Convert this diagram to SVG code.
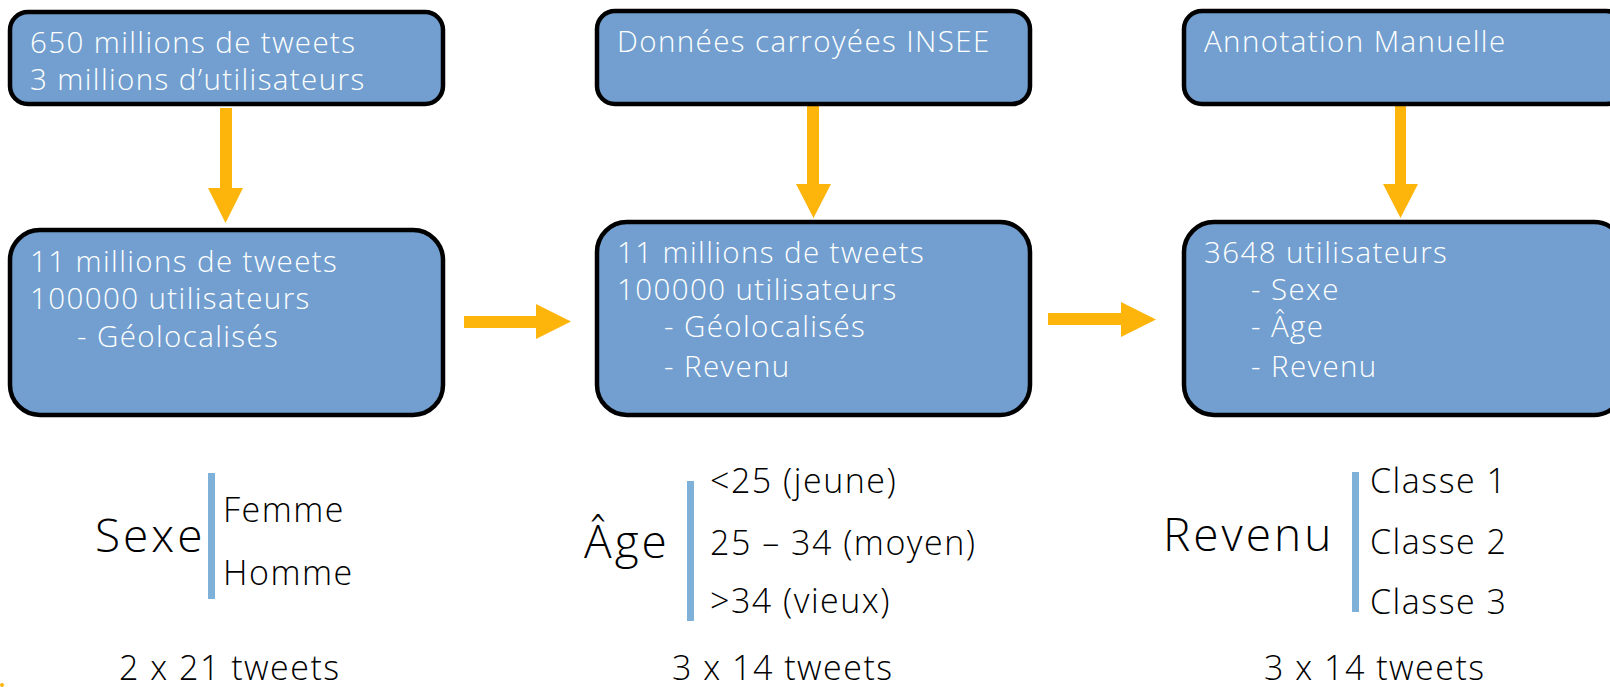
<svg xmlns="http://www.w3.org/2000/svg" width="1610" height="689" viewBox="0 0 1610 689">
<style>
.box{fill:#729fcf;stroke:#000;stroke-width:4.5}
.bt{font-family:"Open Sans",Lato,sans-serif;font-size:29.5px;letter-spacing:1.4px;fill:#fff;font-weight:300}
.lt{font-family:"Open Sans",Lato,sans-serif;fill:#000;font-weight:300}
.big{font-size:46px;letter-spacing:3px}
.mid{font-size:34px;letter-spacing:1.5px}
.arr{fill:#fdb40b}
.bar{fill:#7fb0d8}
</style>
<rect width="1610" height="689" fill="#fff"/>
<g id="connectors">
<path class="arr" d="M220,108 H232 V188 H243 L225.5,223 L208,188 H220 Z"/>
<path class="arr" d="M807,106 H819 V184 H831 L813.5,218 L796,184 H807 Z"/>
<path class="arr" d="M1395,106 H1406 V184 H1418 L1400.5,218 L1383,184 H1395 Z"/>
<path class="arr" d="M464,316 H536 V304 L571,321.5 L536,339 V328 H464 Z"/>
<path class="arr" d="M1048,313 H1121 V302 L1156,319.5 L1121,337 V325 H1048 Z"/>
</g>
<g id="n1">
<rect class="box" x="10" y="12" width="433" height="92" rx="18"/>
<text class="bt" x="30" y="53">650 millions de tweets</text>
<text class="bt" x="30" y="90">3 millions d’utilisateurs</text>
</g>
<g id="n2">
<rect class="box" x="10" y="230" width="433" height="185" rx="30"/>
<text class="bt" x="30" y="272">11 millions de tweets</text>
<text class="bt" x="30" y="309">100000 utilisateurs</text>
<text class="bt" x="77" y="347">- Géolocalisés</text>
</g>
<g id="n3">
<rect class="box" x="597" y="11" width="433" height="93" rx="18"/>
<text class="bt" x="617" y="52">Données carroyées INSEE</text>
</g>
<g id="n4">
<rect class="box" x="597" y="222" width="433" height="193" rx="30"/>
<text class="bt" x="617" y="263">11 millions de tweets</text>
<text class="bt" x="617" y="300">100000 utilisateurs</text>
<text class="bt" x="664" y="337">- Géolocalisés</text>
<text class="bt" x="664" y="377">- Revenu</text>
</g>
<g id="n5">
<rect class="box" x="1184" y="11" width="440" height="93" rx="18"/>
<text class="bt" x="1204" y="52">Annotation Manuelle</text>
</g>
<g id="n6">
<rect class="box" x="1184" y="222" width="440" height="193" rx="30"/>
<text class="bt" x="1204" y="263">3648 utilisateurs</text>
<text class="bt" x="1251" y="300">- Sexe</text>
<text class="bt" x="1251" y="337">- Âge</text>
<text class="bt" x="1251" y="377">- Revenu</text>
</g>
<g id="sexe">
<text class="lt big" x="95" y="552">Sexe</text>
<rect class="bar" x="208" y="473" width="7" height="126"/>
<text class="lt mid" x="223" y="522">Femme</text>
<text class="lt mid" x="223" y="585">Homme</text>
<text class="lt mid" x="119" y="680">2 x 21 tweets</text>
</g>
<g id="age">
<text class="lt big" x="584" y="558">Âge</text>
<rect class="bar" x="687" y="481" width="7" height="140"/>
<text class="lt mid" x="710" y="493">&lt;25 (jeune)</text>
<text class="lt mid" x="710" y="555">25 – 34 (moyen)</text>
<text class="lt mid" x="710" y="613">&gt;34 (vieux)</text>
<text class="lt mid" x="672" y="680">3 x 14 tweets</text>
</g>
<g id="revenu">
<text class="lt big" x="1163" y="551">Revenu</text>
<rect class="bar" x="1352" y="472" width="7" height="140"/>
<text class="lt mid" x="1370" y="493">Classe 1</text>
<text class="lt mid" x="1370" y="554">Classe 2</text>
<text class="lt mid" x="1370" y="614">Classe 3</text>
<text class="lt mid" x="1264" y="680">3 x 14 tweets</text>
</g>
<circle class="arr" cx="2" cy="685" r="2"/>
</svg>
